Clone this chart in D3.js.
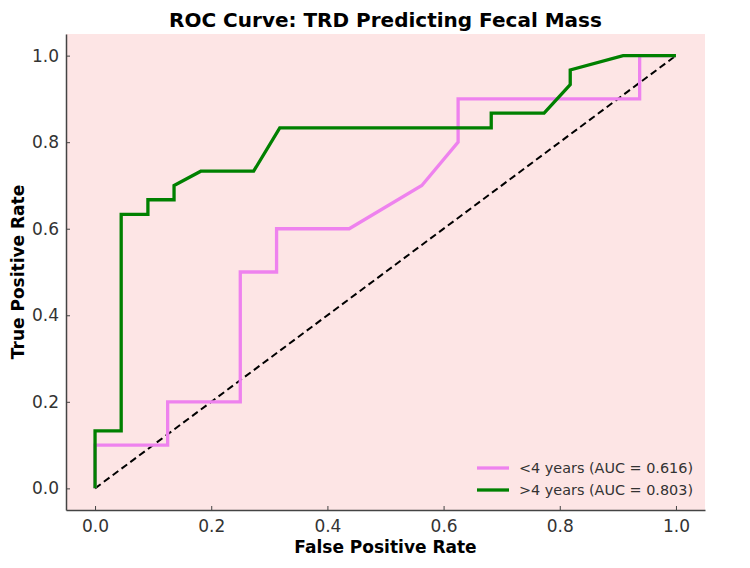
<!DOCTYPE html>
<html>
<head>
<meta charset="utf-8">
<script src="https://cdn.jsdelivr.net/npm/d3@7"></script>
<style>
  body { margin: 0; background: #fff; }
  svg { display: block; font-family: "DejaVu Sans", sans-serif; }
</style>
</head>
<body>
<svg id="chart" width="750" height="568"></svg>
<script>
// ROC points
const under4_fpr = [0, 0, 0.125, 0.125, 0.25, 0.25, 0.3125, 0.3125, 0.4375, 0.5625, 0.625, 0.625, 0.9375, 0.9375, 1];
const under4_tpr = [0, 0.1, 0.1, 0.2, 0.2, 0.5, 0.5, 0.6, 0.6, 0.7, 0.8, 0.9, 0.9, 1.0, 1.0];
const over4_fpr = [0, 0, 0.045, 0.045, 0.091, 0.091, 0.136, 0.136, 0.182, 0.273, 0.318, 0.682, 0.682, 0.773, 0.818, 0.818, 0.909, 1];
const over4_tpr = [0, 0.133, 0.133, 0.633, 0.633, 0.667, 0.667, 0.7, 0.733, 0.733, 0.833, 0.833, 0.867, 0.867, 0.933, 0.967, 1.0, 1.0];
const seriesNames = ["<4 years (AUC = 0.616)", ">4 years (AUC = 0.803)"];
const seriesColors = ["violet", "green"];
const ticks = [0, 0.2, 0.4, 0.6, 0.8, 1.0];

const svg = d3.select("#chart");
const M = { top: 34, right: 45, bottom: 58, left: 66 };
const W = 750 - M.left - M.right;
const H = 568 - M.top - M.bottom;

const x = d3.scaleLinear().domain([-0.05, 1.05]).range([0, W]);
const y = d3.scaleLinear().domain([-0.05, 1.05]).range([H, 0]);

const g = svg.append("g").attr("transform", `translate(${M.left},${M.top})`);

// plot background
g.append("rect").attr("width", W).attr("height", H).attr("fill", "#fde5e5");

// axes, ticks pointing inward
const xAxis = g.append("g").attr("transform", `translate(0,${H})`)
  .call(d3.axisBottom(x).tickValues(ticks).tickFormat(d3.format(".1f")).tickSizeInner(-4).tickSizeOuter(0).tickPadding(10));
const yAxis = g.append("g")
  .call(d3.axisLeft(y).tickValues(ticks).tickFormat(d3.format(".1f")).tickSizeInner(-4).tickSizeOuter(0).tickPadding(7));
[xAxis, yAxis].forEach(a => {
  a.select(".domain").attr("stroke", "#444").attr("stroke-width", 1.5);
  a.selectAll(".tick line").attr("stroke", "#444").attr("stroke-width", 1);
  a.selectAll(".tick text").attr("fill", "#333").style("font-size", "17px").style("font-family", "DejaVu Sans");
});
xAxis.selectAll(".tick text").attr("dy", "0.71em");

// diagonal reference
g.append("line")
  .attr("x1", x(0)).attr("y1", y(0)).attr("x2", x(1)).attr("y2", y(1))
  .attr("stroke", "#000").attr("stroke-width", 2).attr("stroke-dasharray", "7,4");

const line = d3.line().x(d => x(d[0])).y(d => y(d[1]));
const series = [
  d3.zip(under4_fpr, under4_tpr),
  d3.zip(over4_fpr, over4_tpr)
];
series.forEach((pts, i) => {
  g.append("path").datum(pts)
    .attr("d", line)
    .attr("fill", "none")
    .attr("stroke", seriesColors[i])
    .attr("stroke-width", 3.3)
    .attr("stroke-linejoin", "miter");
});

// legend (lower right)
const lg = g.append("g").attr("transform", `translate(${W - 228},${H - 42})`);
seriesNames.forEach((name, i) => {
  const row = lg.append("g").attr("transform", `translate(0,${i * 22})`);
  row.append("line").attr("x1", 0).attr("x2", 32).attr("y1", 0).attr("y2", 0)
    .attr("stroke", seriesColors[i]).attr("stroke-width", 3.3);
  row.append("text").attr("x", 42).attr("y", 0).attr("dy", "0.35em")
    .attr("fill", "#333").style("font-size", "14.4px").text(name);
});

// title and axis labels
svg.append("text").attr("x", M.left + W / 2).attr("y", 27)
  .attr("text-anchor", "middle").style("font-size", "20px").style("font-weight", "bold")
  .attr("fill", "#000").text("ROC Curve: TRD Predicting Fecal Mass");
svg.append("text").attr("x", M.left + W / 2).attr("y", 553)
  .attr("text-anchor", "middle").style("font-size", "17px").style("font-weight", "bold")
  .text("False Positive Rate");
svg.append("text").attr("transform", `translate(24,${M.top + y(0.5)}) rotate(-90)`)
  .attr("text-anchor", "middle").style("font-size", "17px").style("font-weight", "bold")
  .text("True Positive Rate");
</script>
</body>
</html>
